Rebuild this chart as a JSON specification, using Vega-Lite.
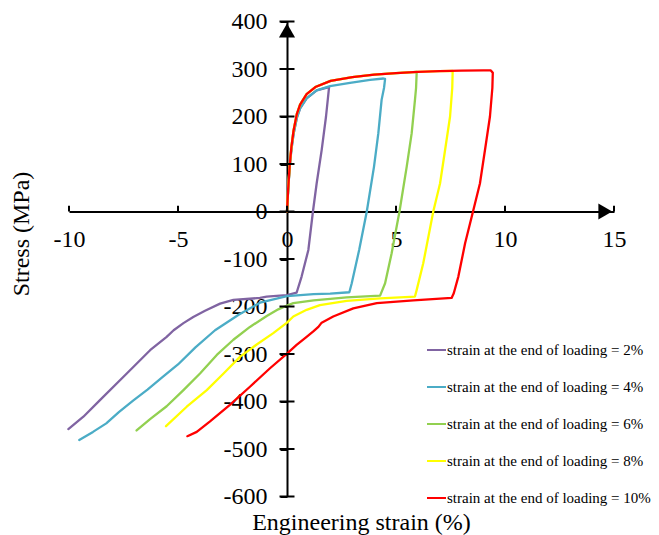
{
  "$schema": "https://vega.github.io/schema/vega-lite/v6.json",
  "width": 545,
  "height": 475,
  "autosize": {"type": "none"},
  "padding": {"left": 69, "top": 21.5, "right": 45, "bottom": 38.5},
  "background": "white",
  "config": {"view": {"stroke": null}, "font": "Liberation Serif", "legend": {"labelFont": "Liberation Serif"}},
  "datasets": {
    "curves": [
      {"e":2,"i":0,"x":0,"y":0},{"e":2,"i":1,"x":0.05,"y":43},{"e":2,"i":2,"x":0.12,"y":92},{"e":2,"i":3,"x":0.2,"y":130},{"e":2,"i":4,"x":0.3,"y":163},{"e":2,"i":5,"x":0.45,"y":197},{"e":2,"i":6,"x":0.6,"y":217},{"e":2,"i":7,"x":0.9,"y":238},{"e":2,"i":8,"x":1.36,"y":255},{"e":2,"i":9,"x":1.93,"y":262},{"e":2,"i":10,"x":1.79,"y":200},{"e":2,"i":11,"x":1.59,"y":129},{"e":2,"i":12,"x":1.36,"y":59},{"e":2,"i":13,"x":1.19,"y":0},{"e":2,"i":14,"x":0.98,"y":-81},{"e":2,"i":15,"x":0.67,"y":-137},{"e":2,"i":16,"x":0.44,"y":-171},{"e":2,"i":17,"x":0,"y":-176},{"e":2,"i":18,"x":-0.33,"y":-177},{"e":2,"i":19,"x":-0.93,"y":-179},{"e":2,"i":20,"x":-1.24,"y":-182},{"e":2,"i":21,"x":-2.46,"y":-186},{"e":2,"i":22,"x":-3.07,"y":-194},{"e":2,"i":23,"x":-3.76,"y":-209},{"e":2,"i":24,"x":-4.3,"y":-222},{"e":2,"i":25,"x":-4.75,"y":-235},{"e":2,"i":26,"x":-5.2,"y":-250},{"e":2,"i":27,"x":-5.52,"y":-264},{"e":2,"i":28,"x":-6.28,"y":-292},{"e":2,"i":29,"x":-7.35,"y":-341},{"e":2,"i":30,"x":-8.58,"y":-397},{"e":2,"i":31,"x":-9.34,"y":-432},{"e":2,"i":32,"x":-10.03,"y":-458},
      {"e":4,"i":0,"x":0,"y":0},{"e":4,"i":1,"x":0.05,"y":43},{"e":4,"i":2,"x":0.12,"y":92},{"e":4,"i":3,"x":0.2,"y":130},{"e":4,"i":4,"x":0.3,"y":163},{"e":4,"i":5,"x":0.45,"y":197},{"e":4,"i":6,"x":0.6,"y":217},{"e":4,"i":7,"x":0.9,"y":238},{"e":4,"i":8,"x":1.36,"y":255},{"e":4,"i":9,"x":1.97,"y":264},{"e":4,"i":10,"x":2.89,"y":271},{"e":4,"i":11,"x":3.81,"y":277},{"e":4,"i":12,"x":4.42,"y":280},{"e":4,"i":13,"x":4.5,"y":279},{"e":4,"i":14,"x":4.45,"y":260},{"e":4,"i":15,"x":4.34,"y":235},{"e":4,"i":16,"x":4.19,"y":165},{"e":4,"i":17,"x":3.99,"y":94},{"e":4,"i":18,"x":3.66,"y":0},{"e":4,"i":19,"x":3.31,"y":-81},{"e":4,"i":20,"x":2.97,"y":-151},{"e":4,"i":21,"x":2.86,"y":-170},{"e":4,"i":22,"x":1.98,"y":-173},{"e":4,"i":23,"x":1.22,"y":-174},{"e":4,"i":24,"x":0,"y":-178},{"e":4,"i":25,"x":-1.24,"y":-192},{"e":4,"i":26,"x":-2.2,"y":-217},{"e":4,"i":27,"x":-3.3,"y":-250},{"e":4,"i":28,"x":-4.2,"y":-286},{"e":4,"i":29,"x":-5.0,"y":-322},{"e":4,"i":30,"x":-5.7,"y":-348},{"e":4,"i":31,"x":-6.4,"y":-375},{"e":4,"i":32,"x":-7.06,"y":-398},{"e":4,"i":33,"x":-7.7,"y":-422},{"e":4,"i":34,"x":-8.29,"y":-446},{"e":4,"i":35,"x":-8.9,"y":-464},{"e":4,"i":36,"x":-9.53,"y":-481},
      {"e":6,"i":0,"x":0,"y":0},{"e":6,"i":1,"x":0.05,"y":45},{"e":6,"i":2,"x":0.12,"y":95},{"e":6,"i":3,"x":0.2,"y":135},{"e":6,"i":4,"x":0.3,"y":170},{"e":6,"i":5,"x":0.45,"y":205},{"e":6,"i":6,"x":0.6,"y":225},{"e":6,"i":7,"x":0.9,"y":247},{"e":6,"i":8,"x":1.3,"y":262},{"e":6,"i":9,"x":2.0,"y":275},{"e":6,"i":10,"x":3.0,"y":283},{"e":6,"i":11,"x":4.0,"y":288},{"e":6,"i":12,"x":5.0,"y":291.5},{"e":6,"i":13,"x":5.95,"y":294},{"e":6,"i":14,"x":5.92,"y":260},{"e":6,"i":15,"x":5.87,"y":235},{"e":6,"i":16,"x":5.72,"y":165},{"e":6,"i":17,"x":5.49,"y":94},{"e":6,"i":18,"x":5.16,"y":0},{"e":6,"i":19,"x":4.8,"y":-88},{"e":6,"i":20,"x":4.5,"y":-151},{"e":6,"i":21,"x":4.27,"y":-177},{"e":6,"i":22,"x":2.74,"y":-181},{"e":6,"i":23,"x":1.22,"y":-187},{"e":6,"i":24,"x":0.29,"y":-193},{"e":6,"i":25,"x":0,"y":-198},{"e":6,"i":26,"x":-0.4,"y":-206},{"e":6,"i":27,"x":-0.93,"y":-220},{"e":6,"i":28,"x":-1.7,"y":-243},{"e":6,"i":29,"x":-2.46,"y":-270},{"e":6,"i":30,"x":-3.22,"y":-302},{"e":6,"i":31,"x":-3.99,"y":-341},{"e":6,"i":32,"x":-4.75,"y":-376},{"e":6,"i":33,"x":-5.52,"y":-410},{"e":6,"i":34,"x":-6.28,"y":-437},{"e":6,"i":35,"x":-6.9,"y":-461},
      {"e":8,"i":0,"x":0,"y":0},{"e":8,"i":1,"x":0.05,"y":45},{"e":8,"i":2,"x":0.12,"y":95},{"e":8,"i":3,"x":0.2,"y":135},{"e":8,"i":4,"x":0.3,"y":170},{"e":8,"i":5,"x":0.45,"y":205},{"e":8,"i":6,"x":0.6,"y":225},{"e":8,"i":7,"x":0.9,"y":247},{"e":8,"i":8,"x":1.3,"y":262},{"e":8,"i":9,"x":2.0,"y":275},{"e":8,"i":10,"x":3.0,"y":283},{"e":8,"i":11,"x":4.0,"y":288},{"e":8,"i":12,"x":5.0,"y":291.5},{"e":8,"i":13,"x":6.0,"y":294},{"e":8,"i":14,"x":7.0,"y":295.5},{"e":8,"i":15,"x":7.6,"y":296},{"e":8,"i":16,"x":7.58,"y":260},{"e":8,"i":17,"x":7.48,"y":200},{"e":8,"i":18,"x":7.25,"y":129},{"e":8,"i":19,"x":7.02,"y":59},{"e":8,"i":20,"x":6.71,"y":0},{"e":8,"i":21,"x":6.25,"y":-109},{"e":8,"i":22,"x":5.95,"y":-165},{"e":8,"i":23,"x":5.87,"y":-179},{"e":8,"i":24,"x":4.27,"y":-183},{"e":8,"i":25,"x":2.74,"y":-188},{"e":8,"i":26,"x":1.51,"y":-197},{"e":8,"i":27,"x":0.9,"y":-207},{"e":8,"i":28,"x":0.29,"y":-221},{"e":8,"i":29,"x":0,"y":-234},{"e":8,"i":30,"x":-0.63,"y":-256},{"e":8,"i":31,"x":-1.39,"y":-280},{"e":8,"i":32,"x":-2.16,"y":-306},{"e":8,"i":33,"x":-2.91,"y":-341},{"e":8,"i":34,"x":-3.68,"y":-376},{"e":8,"i":35,"x":-4.6,"y":-411},{"e":8,"i":36,"x":-5.55,"y":-452},
      {"e":10,"i":0,"x":0,"y":0},{"e":10,"i":1,"x":0.05,"y":45},{"e":10,"i":2,"x":0.12,"y":95},{"e":10,"i":3,"x":0.2,"y":135},{"e":10,"i":4,"x":0.3,"y":170},{"e":10,"i":5,"x":0.45,"y":205},{"e":10,"i":6,"x":0.6,"y":225},{"e":10,"i":7,"x":0.9,"y":247},{"e":10,"i":8,"x":1.3,"y":262},{"e":10,"i":9,"x":2.0,"y":275},{"e":10,"i":10,"x":3.0,"y":283},{"e":10,"i":11,"x":4.0,"y":288},{"e":10,"i":12,"x":5.0,"y":291.5},{"e":10,"i":13,"x":6.0,"y":294},{"e":10,"i":14,"x":7.0,"y":295.5},{"e":10,"i":15,"x":8.0,"y":296.5},{"e":10,"i":16,"x":9.0,"y":297},{"e":10,"i":17,"x":9.35,"y":297},{"e":10,"i":18,"x":9.44,"y":292},{"e":10,"i":19,"x":9.42,"y":260},{"e":10,"i":20,"x":9.31,"y":200},{"e":10,"i":21,"x":9.08,"y":129},{"e":10,"i":22,"x":8.85,"y":59},{"e":10,"i":23,"x":8.55,"y":3},{"e":10,"i":24,"x":8.17,"y":-67},{"e":10,"i":25,"x":7.86,"y":-137},{"e":10,"i":26,"x":7.65,"y":-172},{"e":10,"i":27,"x":7.55,"y":-182},{"e":10,"i":28,"x":6.5,"y":-185},{"e":10,"i":29,"x":5.8,"y":-187},{"e":10,"i":30,"x":4.12,"y":-193},{"e":10,"i":31,"x":3.04,"y":-204},{"e":10,"i":32,"x":2.12,"y":-221},{"e":10,"i":33,"x":1.59,"y":-234},{"e":10,"i":34,"x":1.44,"y":-243},{"e":10,"i":35,"x":1.22,"y":-252},{"e":10,"i":36,"x":0.9,"y":-264},{"e":10,"i":37,"x":0.44,"y":-281},{"e":10,"i":38,"x":0,"y":-299},{"e":10,"i":39,"x":-0.78,"y":-330},{"e":10,"i":40,"x":-1.7,"y":-369},{"e":10,"i":41,"x":-2.62,"y":-407},{"e":10,"i":42,"x":-3.53,"y":-442},{"e":10,"i":43,"x":-4.14,"y":-464},{"e":10,"i":44,"x":-4.57,"y":-473}
    ],
    "yticks": [{"v":-600},{"v":-500},{"v":-400},{"v":-300},{"v":-200},{"v":-100},{"v":0},{"v":100},{"v":200},{"v":300},{"v":400}],
    "xticks": [{"v":-10},{"v":-5},{"v":0},{"v":5},{"v":10},{"v":15}]
  },
  "layer": [
    {
      "data": {"name": "curves"},
      "mark": {"type": "line", "strokeWidth": 2.3, "strokeJoin": "round", "strokeCap": "round"},
      "encoding": {
        "x": {
          "field": "x", "type": "quantitative",
          "scale": {"domain": [-10, 15], "nice": false, "zero": false},
          "axis": {
            "title": "Engineering strain (%)",
            "values": [-10, -5, 0, 5, 10, 15],
            "labelExpr": "'' + datum.value",
            "offset": -285,
            "grid": false,
            "domainColor": "black", "domainWidth": 2,
            "ticks": false,
            "labelPadding": 16,
            "labelFont": "Liberation Serif", "labelFontSize": 24, "labelColor": "black",
            "labelFlush": false, "labelOverlap": false,
            "titleFont": "Liberation Serif", "titleFontSize": 24, "titleFontWeight": "normal", "titleColor": "black",
            "titleX": 292, "titleY": 317.5, "titleBaseline": "alphabetic", "titleAlign": "center"
          }
        },
        "y": {
          "field": "y", "type": "quantitative",
          "scale": {"domain": [-600, 400], "nice": false, "zero": false},
          "axis": {
            "title": "Stress (MPa)",
            "values": [-600, -500, -400, -300, -200, -100, 0, 100, 200, 300, 400],
            "labelExpr": "'' + datum.value",
            "offset": -218,
            "grid": false,
            "domainColor": "black", "domainWidth": 2,
            "tickColor": "black", "tickWidth": 2, "tickSize": 7,
            "labelPadding": 13,
            "labelFont": "Liberation Serif", "labelFontSize": 24, "labelColor": "black",
            "labelFlush": false, "labelOverlap": false,
            "titleFont": "Liberation Serif", "titleFontSize": 24, "titleFontWeight": "normal", "titleColor": "black",
            "titleX": -258.5, "titleY": 212, "titleBaseline": "alphabetic", "titleAlign": "center", "titleAngle": -90
          }
        },
        "color": {
          "field": "e", "type": "nominal",
          "scale": {"domain": [2, 4, 6, 8, 10], "range": ["#8064A2", "#4BACC6", "#92D050", "#FFFF00", "#FF0000"]},
          "legend": {
            "orient": "none", "legendX": 357, "legendY": 318,
            "title": null, "padding": 0,
            "symbolType": "stroke", "symbolSize": 361, "symbolStrokeWidth": 2,
            "labelExpr": "'strain at the end of loading = ' + datum.label + '%'",
            "labelFont": "Liberation Serif", "labelFontSize": 15, "labelColor": "black",
            "labelOffset": 0, "labelLimit": 400, "rowPadding": 18
          }
        },
        "order": {"field": "i", "type": "quantitative"}
      }
    },
    {
      "data": {"name": "yticks"},
      "mark": {"type": "tick", "orient": "horizontal", "color": "black", "thickness": 2, "size": 15, "opacity": 1},
      "encoding": {
        "x": {"datum": 0, "type": "quantitative", "title": "Engineering strain (%)"},
        "y": {"field": "v", "type": "quantitative", "title": "Stress (MPa)"}
      }
    },
    {
      "data": {"name": "xticks"},
      "mark": {"type": "rule", "color": "black", "strokeWidth": 2},
      "encoding": {
        "x": {"field": "v", "type": "quantitative", "title": "Engineering strain (%)"},
        "y": {"datum": 0, "type": "quantitative", "title": "Stress (MPa)"},
        "y2": {"datum": 12}
      }
    },
    {
      "data": {"values": [{"a": 1}]},
      "mark": {"type": "point", "shape": "triangle-up", "filled": true, "color": "black", "size": 260, "opacity": 1},
      "encoding": {
        "x": {"datum": 0, "type": "quantitative", "title": "Engineering strain (%)"},
        "y": {"datum": 381, "type": "quantitative", "title": "Stress (MPa)"}
      }
    },
    {
      "data": {"values": [{"a": 1}]},
      "mark": {"type": "point", "shape": "triangle-right", "filled": true, "color": "black", "size": 256, "opacity": 1},
      "encoding": {
        "x": {"datum": 14.6, "type": "quantitative", "title": "Engineering strain (%)"},
        "y": {"datum": 0, "type": "quantitative", "title": "Stress (MPa)"}
      }
    }
  ]
}
